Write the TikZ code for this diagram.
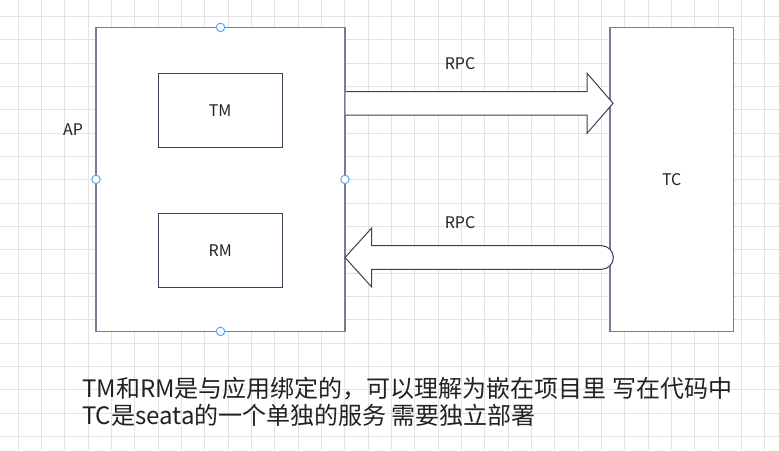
\documentclass[tikz,border=0pt]{standalone}
\usepackage{fontspec}
\setmainfont{Noto Sans CJK SC}
\usetikzlibrary{calc}

\definecolor{gridgray}{HTML}{E3E3E3}
\definecolor{edgegray}{HTML}{777C94}
\definecolor{edgedark}{HTML}{3B4059}
\definecolor{portblue}{HTML}{5EA6F4}
\definecolor{textdark}{HTML}{222222}

\begin{document}
\begin{tikzpicture}[x=1pt, y=-1pt,
  gridline/.style={draw=gridgray, line width=1pt},
  outerbox/.style={draw=edgegray, line width=1.3pt, fill=white, inner sep=0pt, outer sep=0pt,
    font=\fontsize{16}{18}\selectfont, text=textdark},
  innerbox/.style={draw=edgedark, line width=1pt, fill=white, inner sep=0pt,
    minimum width=124pt, minimum height=74pt, font=\fontsize{16}{18}\selectfont, text=textdark},
  port/.style={circle, draw=portblue, fill=white, line width=1pt, minimum size=8.5pt, inner sep=0pt},
  bigarrow/.style={draw=edgedark, line width=1pt, fill=white, line join=miter},
  lbl/.style={font=\fontsize{16}{18}\selectfont, text=textdark},
  note/.style={font=\fontsize{24}{27}\selectfont, text=textdark, anchor=base west, inner sep=0pt}]

  \useasboundingbox (0,0) rectangle (779,450);
  \fill[white] (0,0) rectangle (779,450);

  % Background grid
  \foreach \k in {0,...,32}
    \draw[gridline] (18.3+23.33*\k,0) -- (18.3+23.33*\k,450);
  \foreach \k in {0,...,18}
    \draw[gridline] (0,16.5+23.33*\k) -- (779,16.5+23.33*\k);

  % Application (AP) with TM and RM
  \node[outerbox, minimum width=249pt, minimum height=304pt] (ap) at (220.5,179.4) {};
  \node[lbl] (aplabel) at (73,130) {AP};
  \node[innerbox] (tm) at (220.2,110.5) {TM};
  \node[innerbox] (rm) at (220.2,250.3) {RM};
  \foreach \a in {north,south,east,west}
    \node[port] (port-\a) at (ap.\a) {};

  % Transaction Coordinator
  \node[outerbox, minimum width=123.3pt, minimum height=304pt] (tc) at (671.7,179.4) {TC};

  % RPC: AP -> TC
  \coordinate (reqS) at ($(ap.east)+(0.7,-76.1)$);
  \coordinate (reqT) at ($(tc.west |- reqS)+(3,0)$);
  \draw[bigarrow] ($(reqS)+(0,-11.7)$) -- ($(reqT)+(-26,-11.7)$) -- ($(reqT)+(-26,-30)$)
    -- (reqT) -- ($(reqT)+(-26,30)$) -- ($(reqT)+(-26,11.7)$) -- ($(reqS)+(0,11.7)$);
  \node[lbl] (rpcA) at (460,64) {RPC};

  % RPC: TC -> AP
  \coordinate (ackT) at ($(ap.east)+(0,78.1)$);
  \coordinate (ackE) at ($(tc.west |- ackT)+(3.3,0)$);
  \draw[bigarrow] (ackT) -- ($(ackT)+(26.7,-29.5)$) -- ($(ackT)+(26.7,-11.8)$)
    -- ($(ackE)+(-11.8,-11.8)$) arc[start angle=90, end angle=-90, radius=11.8pt]
    -- ($(ackT)+(26.7,11.8)$) -- ($(ackT)+(26.7,29.5)$) -- cycle;
  \node[lbl] (rpcB) at (460,223) {RPC};

  % Notes
  \node[note] (noteA) at (82,397) {TM和RM是与应用绑定的，可以理解为嵌在项目里 写在代码中};
  \node[note] (noteB) at (82,424) {TC是seata的一个单独的服务 需要独立部署};

\end{tikzpicture}
\end{document}
